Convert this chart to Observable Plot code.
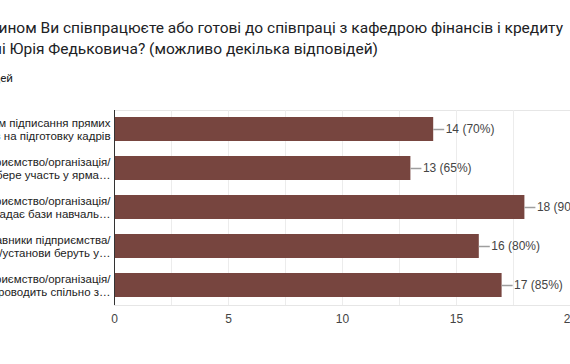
<!DOCTYPE html>
<html><head><meta charset="utf-8">
<script src="https://cdn.jsdelivr.net/npm/d3@7"></script>
<script src="https://cdn.jsdelivr.net/npm/@observablehq/plot@0.6"></script>
<style>
html,body{margin:0;padding:0;background:#fff;overflow:hidden;width:570px;height:364px;}
#wrap{position:relative;width:570px;height:364px;overflow:hidden;}
.t{position:absolute;white-space:nowrap;text-align:right;font-family:Roboto,"Noto Sans",sans-serif;color:#202124;}
#chart{position:absolute;left:0;top:0;}
#chart svg{max-width:none !important;}
</style></head>
<body><div id="wrap">
<div class="t" id="t1" style="left:-1500px;width:2063px;top:17px;font-size:15.5px;line-height:22px;"></div>
<div class="t" id="t2" style="left:-1500px;width:1878px;top:38px;font-size:15.5px;line-height:22px;"></div>
<div class="t" id="t3" style="left:-1500px;width:1513px;top:70px;font-size:11.5px;line-height:16px;"></div>
<div id="chart"></div>
</div>
<script>
const titleLine1 = "Яким чином Ви співпрацюєте або готові до співпраці з кафедрою фінансів і кредиту";
const titleLine2 = "Чернівецького національного університету імені Юрія Федьковича? (можливо декілька відповідей)";
const subtitle = "20 відповідей";

const labelLine1 = [
  "Шляхом підписання прямих",
  "Підприємство/організація/",
  "Підприємство/організація/",
  "Представники підприємства/",
  "Підприємство/організація/"
];
const labelLine2 = [
  "договорів на підготовку кадрів",
  "установа бере участь у ярма…",
  "установа надає бази навчаль…",
  "організації/установи беруть у…",
  "установа проводить спільно з…"
];
const counts = [14, 13, 18, 16, 17];
const percents = [70, 65, 90, 80, 85];
const xTicks = [0, 5, 10, 15, 20];
const gridTicks = [2.5, 5, 7.5, 10, 12.5, 15, 17.5, 20];

document.getElementById("t1").textContent = titleLine1;
document.getElementById("t2").textContent = titleLine2;
document.getElementById("t3").textContent = subtitle;

const data = counts.map((v, i) => ({id: i, l1: labelLine1[i], l2: labelLine2[i], value: v, pct: percents[i]}));
const ids = data.map(d => d.id);
const font = "Arial, 'Liberation Sans', sans-serif";

const chart = Plot.plot({
  width: 640,
  height: 345,
  marginLeft: 114,
  marginRight: 70,
  marginTop: 110,
  marginBottom: 40,
  style: {fontFamily: font, fontSize: "12px", color: "#444", background: "transparent", overflow: "visible", maxWidth: "none"},
  x: {domain: [0, 20], ticks: xTicks, tickSize: 0, tickPadding: 9, label: null},
  y: {domain: ids, axis: null, paddingInner: 0.38, paddingOuter: 0.19},
  marks: [
    Plot.frame({stroke: "#e6e6e6"}),
    Plot.ruleX(gridTicks, {stroke: "#ececec"}),
    Plot.barX(data, {x: "value", y: "id", fill: "#77453f"}),
    Plot.ruleX([0], {stroke: "#333"}),
    Plot.ruleY(data, {y: "id", x1: "value", x2: "value", insetRight: -11, stroke: "#9e9e9e", strokeWidth: 1.5}),
    Plot.text(data, {x: "value", y: "id", text: d => `${d.value} (${d.pct}%)`, textAnchor: "start", dx: 12, fill: "#444", fontSize: 12}),
    Plot.text(data, {y: "id", text: "l1", frameAnchor: "left", textAnchor: "end", dx: -4, dy: -6.5, fill: "#222", fontSize: 11.5}),
    Plot.text(data, {y: "id", text: "l2", frameAnchor: "left", textAnchor: "end", dx: -4, dy: 7, fill: "#222", fontSize: 11.5})
  ]
});
document.getElementById("chart").appendChild(chart);
</script>
</body></html>
